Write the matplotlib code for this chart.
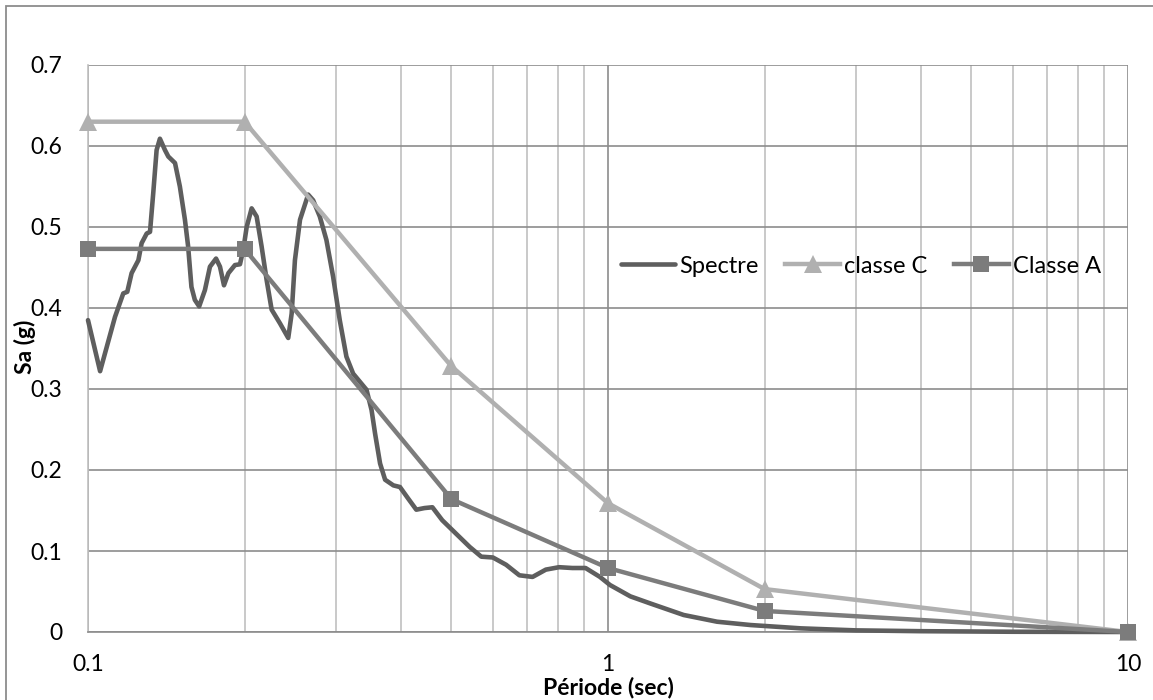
import matplotlib
matplotlib.use("Agg")
import matplotlib.pyplot as plt
from matplotlib.ticker import LogLocator, FixedLocator, NullFormatter
from matplotlib.patches import Rectangle

plt.rcParams['font.family'] = ['Lato', 'DejaVu Sans']

# ---- data ----
spec_T = [0.1, 0.1055, 0.1127, 0.1169, 0.119, 0.1213, 0.125, 0.1268, 0.1297, 0.1316,
          0.1335, 0.1355, 0.1375, 0.1406, 0.1427, 0.147, 0.1502, 0.1536, 0.1558, 0.1581,
          0.1605, 0.1636, 0.1678, 0.1716, 0.1763, 0.1794, 0.1826, 0.1862, 0.1917, 0.196,
          0.1989, 0.2019, 0.2064, 0.211, 0.2157, 0.2205, 0.2255, 0.234, 0.2427, 0.2464,
          0.25, 0.2557, 0.2651, 0.271, 0.2791, 0.2874, 0.296, 0.3049, 0.314, 0.3235,
          0.3433, 0.351, 0.3565, 0.3645, 0.3727, 0.3866, 0.398, 0.4125, 0.4279, 0.4435,
          0.4595, 0.480, 0.5091, 0.5421, 0.5706, 0.6006, 0.6369, 0.6754, 0.7161, 0.7593,
          0.8052, 0.8538, 0.9053, 0.965, 1.009, 1.104, 1.209, 1.398, 1.621, 1.88,
          2.35, 3.0, 4.0, 6.0, 10.0]
spec_Sa = [0.385, 0.322, 0.389, 0.418, 0.42, 0.443, 0.459, 0.480, 0.492, 0.494,
           0.542, 0.595, 0.609, 0.595, 0.587, 0.579, 0.550, 0.509, 0.476, 0.426,
           0.41, 0.402, 0.422, 0.451, 0.461, 0.451, 0.428, 0.443, 0.453, 0.454,
           0.472, 0.500, 0.523, 0.513, 0.476, 0.435, 0.398, 0.381, 0.363, 0.393,
           0.459, 0.509, 0.540, 0.533, 0.513, 0.484, 0.439, 0.385, 0.340, 0.319,
           0.299, 0.274, 0.245, 0.208, 0.188, 0.181, 0.179, 0.165, 0.151, 0.153,
           0.154, 0.138, 0.122, 0.105, 0.093, 0.092, 0.083, 0.070, 0.068, 0.077,
           0.080, 0.079, 0.079, 0.068, 0.058, 0.044, 0.035, 0.021, 0.0127, 0.0086,
           0.0045, 0.002, 0.001, 0.0003, 0.0]

class_T = [0.1, 0.2, 0.5, 1, 2, 10]
classC_Sa = [0.63, 0.63, 0.328, 0.159, 0.053, 0.0]
classA_Sa = [0.473, 0.473, 0.164, 0.079, 0.026, 0.0]

series_labels = ["Spectre", "classe C", "Classe A"]
x_ticks = [0.1, 1, 10]
x_ticklabels = ["0.1", "1", "10"]
y_ticks = [0, 0.1, 0.2, 0.3, 0.4, 0.5, 0.6, 0.7]
y_ticklabels = ["0", "0.1", "0.2", "0.3", "0.4", "0.5", "0.6", "0.7"]
x_label = "Période (sec)"
y_label = "Sa (g)"

# ---- figure ----
W, H = 1153, 700
fig = plt.figure(figsize=(W / 100, H / 100), dpi=100)
ax = fig.add_axes([88 / W, 1 - 632 / H, (1128 - 88) / W, (632 - 65) / H])

# outer chart border
fig.patches.append(Rectangle((6 / W, -0.05), 1.2, 1 - 6 / H + 0.05,
                             transform=fig.transFigure, fill=False,
                             edgecolor='#8c8c8c', linewidth=1.3, zorder=-1))

ax.set_xscale('log')
ax.set_xlim(0.1, 10)
ax.set_ylim(0, 0.7)

ax.xaxis.set_major_locator(FixedLocator(x_ticks))
ax.xaxis.set_minor_locator(LogLocator(base=10, subs=[2, 3, 4, 5, 6, 7, 8, 9]))
ax.xaxis.set_minor_formatter(NullFormatter())
ax.set_xticks(x_ticks)
ax.set_xticklabels(x_ticklabels)
ax.set_yticks(y_ticks)
ax.set_yticklabels(y_ticklabels)

ax.tick_params(axis='both', which='both', length=0, labelsize=16.5, labelcolor='black')
ax.tick_params(axis='x', pad=16)
ax.tick_params(axis='y', pad=18.5)

ax.grid(True, which='major', axis='y', color='#8c8c8c', linewidth=1.2)
ax.grid(True, which='major', axis='x', color='#8c8c8c', linewidth=1.2)
ax.grid(True, which='minor', axis='x', color='#c0c0c0', linewidth=1.2)
ax.set_axisbelow(True)

for s in ['top', 'right']:
    ax.spines[s].set_visible(False)
ax.spines['left'].set_color('#c0c0c0')
ax.spines['left'].set_linewidth(1.2)
ax.spines['bottom'].set_color('#8c8c8c')
ax.spines['bottom'].set_linewidth(1.2)

ax.plot(spec_T, spec_Sa, color='#5e5e5e', linewidth=3.3, label=series_labels[0],
        solid_joinstyle='round', solid_capstyle='round', clip_on=False, zorder=3)
ax.plot(class_T, classC_Sa, color='#b0b0b0', linewidth=3.2, marker='^', markersize=12.5,
        markeredgewidth=0, label=series_labels[1], clip_on=False, zorder=4)
ax.plot(class_T, classA_Sa, color='#7c7c7c', linewidth=3.2, marker='s', markersize=12,
        markeredgewidth=0, label=series_labels[2], clip_on=False, zorder=5)

leg = ax.legend(loc='center', bbox_to_anchor=(0.743, 0.6455), ncol=3, frameon=False,
                fontsize=17, handlelength=2.3, handletextpad=0.17, columnspacing=1.15,
                borderpad=0, borderaxespad=0)

fig.text(608 / W, 1 - 688 / H, x_label, fontsize=16.5, fontweight='bold',
         ha='center', va='center')
fig.text(25 / W, 1 - 347 / H, y_label, fontsize=16.5, fontweight='bold',
         ha='center', va='center', rotation=90)

fig.savefig("out.png", dpi=100)
